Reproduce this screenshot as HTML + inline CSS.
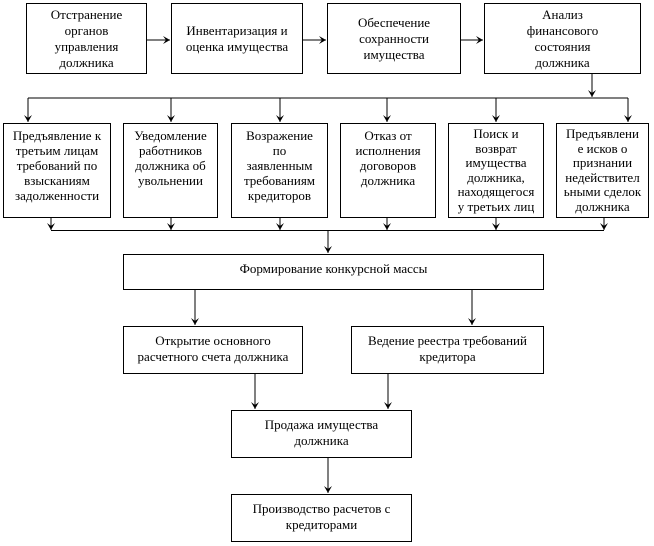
<!DOCTYPE html>
<html><head><meta charset="utf-8"><style>
body{margin:0;width:654px;height:546px;background:#fff;position:relative;overflow:hidden;font-family:"Liberation Serif","Times New Roman",serif;font-size:13px;line-height:16px;color:#000}
.b{position:absolute;box-sizing:border-box;border:1px solid #000;background:#fff;display:flex;align-items:center;justify-content:center;text-align:center;padding:0 3px}
.t{align-items:flex-start;padding-top:4px;line-height:15px;padding-left:1px;padding-right:1px}
.u{align-items:flex-start;padding-top:6px}
svg{position:absolute;left:0;top:0}
</style></head><body>
<svg width="654" height="546" viewBox="0 0 654 546">
<defs><marker id="a" markerWidth="8" markerHeight="8" refX="7" refY="4" orient="auto" markerUnits="userSpaceOnUse"><path d="M0,0 L7,4 L0,8 L3,4 Z" fill="#000"/></marker></defs>
<g stroke="#000" stroke-width="1" fill="none">
<line x1="147" y1="40" x2="170" y2="40" marker-end="url(#a)"/>
<line x1="303" y1="40" x2="326" y2="40" marker-end="url(#a)"/>
<line x1="461" y1="40" x2="483" y2="40" marker-end="url(#a)"/>
<line x1="592" y1="74" x2="592" y2="97" marker-end="url(#a)"/>
<line x1="28" y1="98" x2="628" y2="98"/>
<line x1="28" y1="98" x2="28" y2="122" marker-end="url(#a)"/>
<line x1="171" y1="98" x2="171" y2="122" marker-end="url(#a)"/>
<line x1="280" y1="98" x2="280" y2="122" marker-end="url(#a)"/>
<line x1="387" y1="98" x2="387" y2="122" marker-end="url(#a)"/>
<line x1="496" y1="98" x2="496" y2="122" marker-end="url(#a)"/>
<line x1="628" y1="98" x2="628" y2="122" marker-end="url(#a)"/>
<line x1="51" y1="218" x2="51" y2="230" marker-end="url(#a)"/>
<line x1="171" y1="218" x2="171" y2="230" marker-end="url(#a)"/>
<line x1="280" y1="218" x2="280" y2="230" marker-end="url(#a)"/>
<line x1="387" y1="218" x2="387" y2="230" marker-end="url(#a)"/>
<line x1="496" y1="218" x2="496" y2="230" marker-end="url(#a)"/>
<line x1="604" y1="218" x2="604" y2="230" marker-end="url(#a)"/>
<line x1="51" y1="230.5" x2="604" y2="230.5"/>
<line x1="328" y1="230" x2="328" y2="253" marker-end="url(#a)"/>
<line x1="195" y1="290" x2="195" y2="325" marker-end="url(#a)"/>
<line x1="472" y1="290" x2="472" y2="325" marker-end="url(#a)"/>
<line x1="255" y1="374" x2="255" y2="409" marker-end="url(#a)"/>
<line x1="388" y1="374" x2="388" y2="409" marker-end="url(#a)"/>
<line x1="328" y1="458" x2="328" y2="493" marker-end="url(#a)"/>
</g></svg>
<div class="b" style="left:26px;top:3px;width:121px;height:71px">Отстранение<br>органов<br>управления<br>должника</div>
<div class="b" style="left:171px;top:3px;width:132px;height:71px">Инвентаризация и<br>оценка имущества</div>
<div class="b" style="left:327px;top:3px;width:134px;height:71px">Обеспечение<br>сохранности<br>имущества</div>
<div class="b" style="left:484px;top:3px;width:157px;height:71px">Анализ<br>финансового<br>состояния<br>должника</div>
<div class="b t" style="left:3px;top:123px;width:108px;height:95px">Предъявление к<br>третьим лицам<br>требований по<br>взысканиям<br>задолженности</div>
<div class="b t" style="left:123px;top:123px;width:95px;height:95px">Уведомление<br>работников<br>должника об<br>увольнении</div>
<div class="b t" style="left:231px;top:123px;width:97px;height:95px">Возражение<br>по<br>заявленным<br>требованиям<br>кредиторов</div>
<div class="b t" style="left:340px;top:123px;width:96px;height:95px">Отказ от<br>исполнения<br>договоров<br>должника</div>
<div class="b t" style="left:448px;top:123px;width:96px;height:95px;padding-top:3px;line-height:14.5px">Поиск и<br>возврат<br>имущества<br>должника,<br>находящегося<br>у третьих лиц</div>
<div class="b t" style="left:556px;top:123px;width:93px;height:95px;padding-top:3px;line-height:14.5px">Предъявлени<br>е исков о<br>признании<br>недействител<br>ьными сделок<br>должника</div>
<div class="b" style="left:123px;top:254px;width:421px;height:36px;padding-bottom:6px">Формирование конкурсной массы</div>
<div class="b u" style="left:123px;top:326px;width:180px;height:48px">Открытие основного<br>расчетного счета должника</div>
<div class="b u" style="left:351px;top:326px;width:193px;height:48px">Ведение реестра требований<br>кредитора</div>
<div class="b u" style="left:231px;top:410px;width:181px;height:48px">Продажа имущества<br>должника</div>
<div class="b u" style="left:231px;top:494px;width:181px;height:48px">Производство расчетов с<br>кредиторами</div>
</body></html>
